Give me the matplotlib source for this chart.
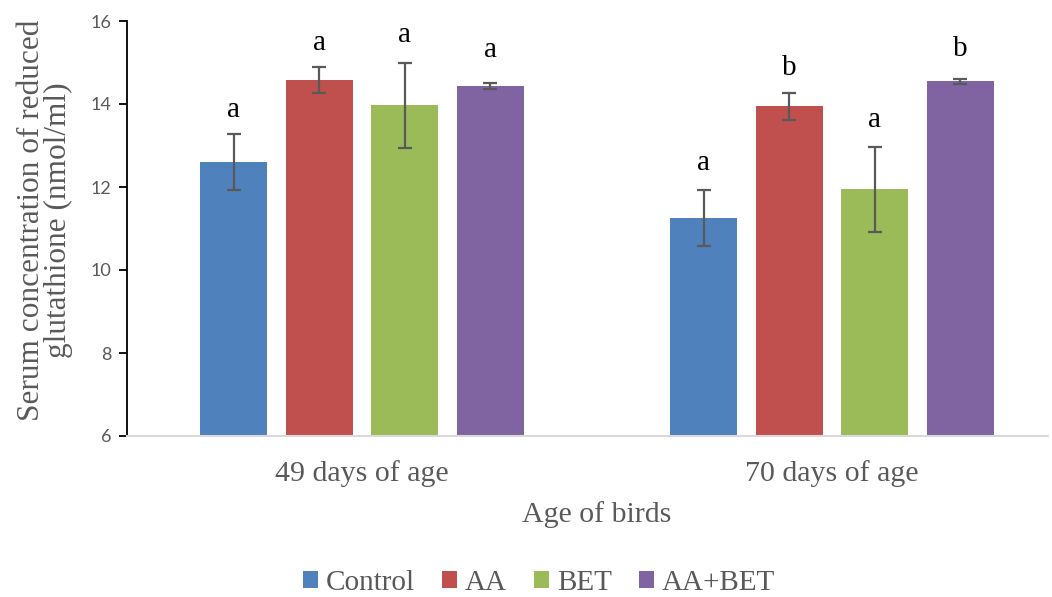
import matplotlib
matplotlib.use("Agg")
import numpy as np
from matplotlib import pyplot as plt
from matplotlib.patches import Patch

# data
ages = ['49 days of age', '70 days of age']
groups = ['Control', 'AA', 'BET', 'AA+BET']
means = {
    'Control': [12.60, 11.25],
    'AA':      [14.58, 13.94],
    'BET':     [13.97, 11.94],
    'AA+BET':  [14.43, 14.55],
}
errors = {
    'Control': [0.67, 0.67],
    'AA':      [0.32, 0.33],
    'BET':     [1.02, 1.02],
    'AA+BET':  [0.07, 0.06],
}
letters = {
    'Control': ['a', 'a'],
    'AA':      ['a', 'b'],
    'BET':     ['a', 'a'],
    'AA+BET':  ['a', 'b'],
}
# baseline height of the significance letters
letter_y = {
    'Control': [13.69, 12.41],
    'AA':      [15.30, 14.70],
    'BET':     [15.49, 13.45],
    'AA+BET':  [15.13, 15.16],
}
colors = ['#4F81BD', '#C0504D', '#9BBB59', '#8064A2']

SERIF = 'Liberation Serif'
GRAY = '#595959'

fig = plt.figure(figsize=(10.52, 5.97), dpi=100)
ax = fig.add_axes([127/1052, 1-436/597, (1048-127)/1052, (436-21)/597])

x = np.arange(len(ages))
width = 0.1426
step = 0.182
for i, g in enumerate(groups):
    pos = x + (i - 1.5) * step
    ax.bar(pos, means[g], width, color=colors[i], zorder=2)
    ax.errorbar(pos, means[g], yerr=errors[g], fmt='none', ecolor=GRAY,
                elinewidth=1.6, capsize=5, capthick=1.6, zorder=3)
    for j in range(len(ages)):
        ax.text(pos[j], letter_y[g][j], letters[g][j], ha='center', va='baseline',
                fontsize=21, family=SERIF, color='black')

ax.set_ylim(6, 16)
ax.set_xlim(-0.5, 1.46)
ax.set_yticks([6, 8, 10, 12, 14, 16])
ax.tick_params(axis='y', direction='out', length=6, width=1.3, color='black',
               labelsize=13, labelcolor=GRAY, pad=5)
for lab in ax.get_yticklabels():
    lab.set_family('Lato')
ax.set_xticks(x)
ax.set_xticklabels(ages, fontsize=21.5, family=SERIF, color=GRAY)
ax.tick_params(axis='x', length=0, pad=17)

ax.spines['top'].set_visible(False)
ax.spines['right'].set_visible(False)
ax.spines['left'].set_color('black')
ax.spines['left'].set_linewidth(1.3)
ax.spines['bottom'].set_color('#D9D9D9')
ax.spines['bottom'].set_linewidth(1.5)

fig.text(597/1052, 1-515/597, 'Age of birds', ha='center', va='center',
         fontsize=21.5, family=SERIF, color=GRAY)
fig.text(45/1052, 1-220/597, 'Serum concentration of reduced\nglutathione (nmol/ml)',
         rotation=90, ha='center', va='center', multialignment='center',
         fontsize=22.5, family=SERIF, color=GRAY, linespacing=0.95)

handles = [Patch(facecolor=c, label=g) for c, g in zip(colors, groups)]
fig.legend(handles=handles, loc='center', bbox_to_anchor=(539/1052, 1-583/597),
           ncol=4, frameon=False, prop={'family': SERIF, 'size': 21},
           labelcolor=GRAY, handlelength=0.52, handleheight=0.52,
           handletextpad=0.27, columnspacing=0.93)

fig.savefig('out.png', dpi=100)
